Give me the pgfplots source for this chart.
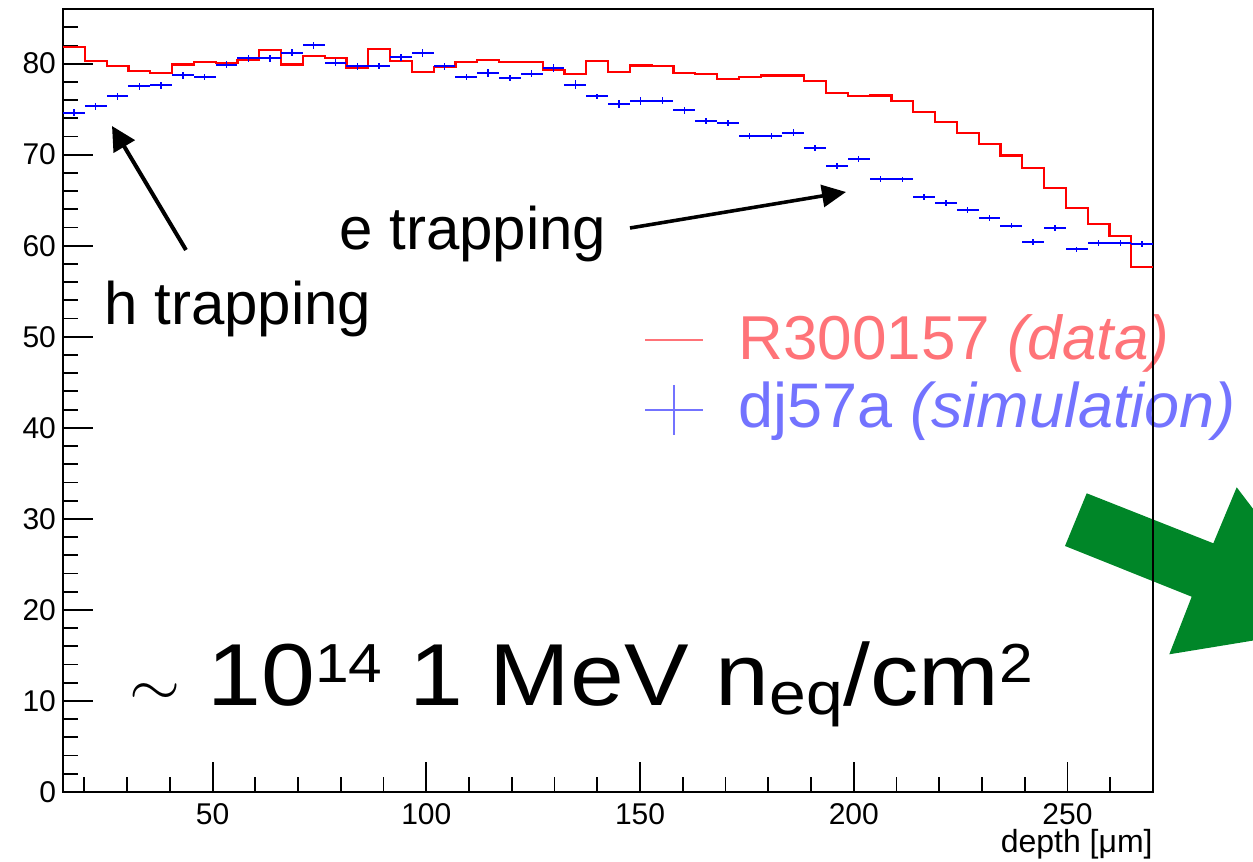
\documentclass[border=0pt]{standalone}
\usepackage{fontspec}
\setmainfont{Liberation Sans}
\usepackage{graphicx}
\usepackage{pgfplots}
\pgfplotsset{compat=1.18}
\usepackage{pgfplotstable}
\usetikzlibrary{arrows.meta}
\definecolor{rootgreen}{RGB}{0,134,40}
\definecolor{legred}{RGB}{255,115,120}
\definecolor{legblue}{RGB}{115,115,255}

\pgfplotstableread{
x y
15.0 81.8
20.1 80.3
25.2 79.7
30.3 79.2
35.4 79.0
40.5 79.9
45.6 80.2
50.7 80.1
55.8 80.4
60.9 81.5
66.0 79.9
71.1 80.8
76.2 80.6
81.3 79.5
86.4 81.6
91.5 80.3
96.6 79.1
101.7 79.6
106.8 80.2
111.9 80.4
117.0 80.2
122.1 80.2
127.2 79.3
132.3 78.9
137.4 80.3
142.5 79.1
147.6 79.8
152.7 79.7
157.8 79.0
162.9 78.9
168.0 78.3
173.1 78.5
178.2 78.7
183.3 78.7
188.4 78.1
193.5 76.8
198.6 76.4
203.7 76.5
208.8 75.9
213.9 74.7
219.0 73.6
224.1 72.4
229.2 71.2
234.3 69.9
239.4 68.5
244.5 66.3
249.6 64.1
254.7 62.4
259.8 61.1
264.9 57.7
270.0 57.7
}\datared

\pgfplotstableread{
x y ey
17.55 74.6 0.40
22.65 75.3 0.38
27.75 76.4 0.38
32.85 77.5 0.38
37.95 77.6 0.38
43.05 78.7 0.38
48.15 78.5 0.33
53.25 79.9 0.38
58.35 80.6 0.38
63.45 80.6 0.38
68.55 81.2 0.38
73.65 82.0 0.38
78.75 80.1 0.38
83.85 79.7 0.38
88.95 79.7 0.33
94.05 80.7 0.38
99.15 81.2 0.42
104.25 79.7 0.38
109.35 78.5 0.33
114.45 79.0 0.42
119.55 78.4 0.33
124.65 78.9 0.38
129.75 79.5 0.42
134.85 77.7 0.48
139.95 76.4 0.25
145.05 75.6 0.42
150.15 75.9 0.42
155.25 75.9 0.38
160.35 74.9 0.38
165.45 73.7 0.33
170.55 73.5 0.30
175.65 72.1 0.33
180.75 72.1 0.33
185.85 72.4 0.38
190.95 70.7 0.33
196.05 68.8 0.33
201.15 69.5 0.33
206.25 67.3 0.33
211.35 67.3 0.30
216.45 65.4 0.33
221.55 64.7 0.33
226.65 63.9 0.33
231.75 63.0 0.33
236.85 62.2 0.30
241.95 60.4 0.30
247.05 61.9 0.33
252.15 59.6 0.30
257.25 60.3 0.30
262.35 60.3 0.30
267.45 60.2 0.30
}\simblue

\newcommand{\supsz}{\fontsize{27.5}{33}\selectfont}
\newcommand{\subsz}{\fontsize{30}{36}\selectfont}

\begin{document}
\begin{tikzpicture}
\path[use as bounding box] (0,0) rectangle (626.5pt,431pt);
\clip (0,0) rectangle (626.5pt,431pt);
\begin{scope}[shift={(0pt,431pt)},x=0.5pt,y=-0.5pt]
  \fill[rootgreen] (1086.7,493.3) -- (1213.3,543.3) -- (1236.7,487.3) -- (1342,626) -- (1169.3,654.3) -- (1191.7,596.7) -- (1065,546) -- cycle;
  \draw[line width=2pt,-{Triangle[length=12pt,width=12pt]}] (186,250) -- (112,126);
  \draw[line width=1.8pt,-{Triangle[length=12pt,width=11pt]}] (630,228) -- (846,192);
  \node[anchor=base west, inner sep=0pt, font=\fontsize{30}{36}\selectfont] at (104,325) {h trapping};
  \node[anchor=base west, inner sep=0pt, font=\fontsize{30}{36}\selectfont] at (339,250) {e trapping};
  \node[anchor=base west, inner sep=0pt, text=legred, font=\fontsize{31}{37}\selectfont] at (738,360) {R300157 \textit{(data)}};
  \node[anchor=base west, inner sep=0pt, text=legblue, font=\fontsize{31.5}{37}\selectfont] at (738,428) {dj57a \textit{(simulation)}};
  \draw[legred, line width=1.3pt] (645,340) -- (703,340);
  \draw[legblue, line width=1.3pt] (645,410) -- (703,410) (674,385) -- (674,435);
  \node[anchor=base west, inner sep=0pt, font=\fontsize{44}{52}\selectfont] at (129,706)
    {\scalebox{1.1}[1]{\scalebox{1.2}{$\sim$} 10\raisebox{0.27em}{\supsz 14} 1 MeV n\raisebox{-0.1em}{\subsz eq}/cm\raisebox{0.27em}{\supsz 2}}};
  \node[anchor=base east, inner sep=0pt, font=\fontsize{16}{19}\selectfont] at (1153,853) {depth [μm]};
\end{scope}
\begin{axis}[
  at={(31.5pt,35pt)}, anchor=south west,
  scale only axis, width=545pt, height=391.5pt,
  xmin=15, xmax=270, ymin=0, ymax=86,
  axis line style={line width=0.9pt},
  xtick={50,100,150,200,250},
  minor xtick={20,30,...,260},
  ytick={0,10,...,80},
  minor ytick={2,4,...,86},
  tick align=inside,
  xtick pos=left, ytick pos=left,
  major tick length=15pt, minor tick length=7.5pt,
  tick style={line width=0.9pt, black},
  tick label style={font=\fontsize{15}{18}\selectfont},
  /pgf/number format/assume math mode=true,
  x tick label style={yshift=-2pt},
]
\addplot[red, line width=1.1pt, const plot] table[x=x,y=y]{\datared};
\addplot[draw=none, mark=none,
  error bars/.cd, x dir=both, x fixed=2.55,
  error mark=none, error bar style={draw=blue, line width=1pt}]
  table[x=x,y=y]{\simblue};
\addplot[draw=none, mark=none,
  error bars/.cd, y dir=both, y explicit,
  error mark=none, error bar style={draw=blue, line width=0.7pt}]
  table[x=x,y=y,y error=ey]{\simblue};
\end{axis}
\end{tikzpicture}
\end{document}
